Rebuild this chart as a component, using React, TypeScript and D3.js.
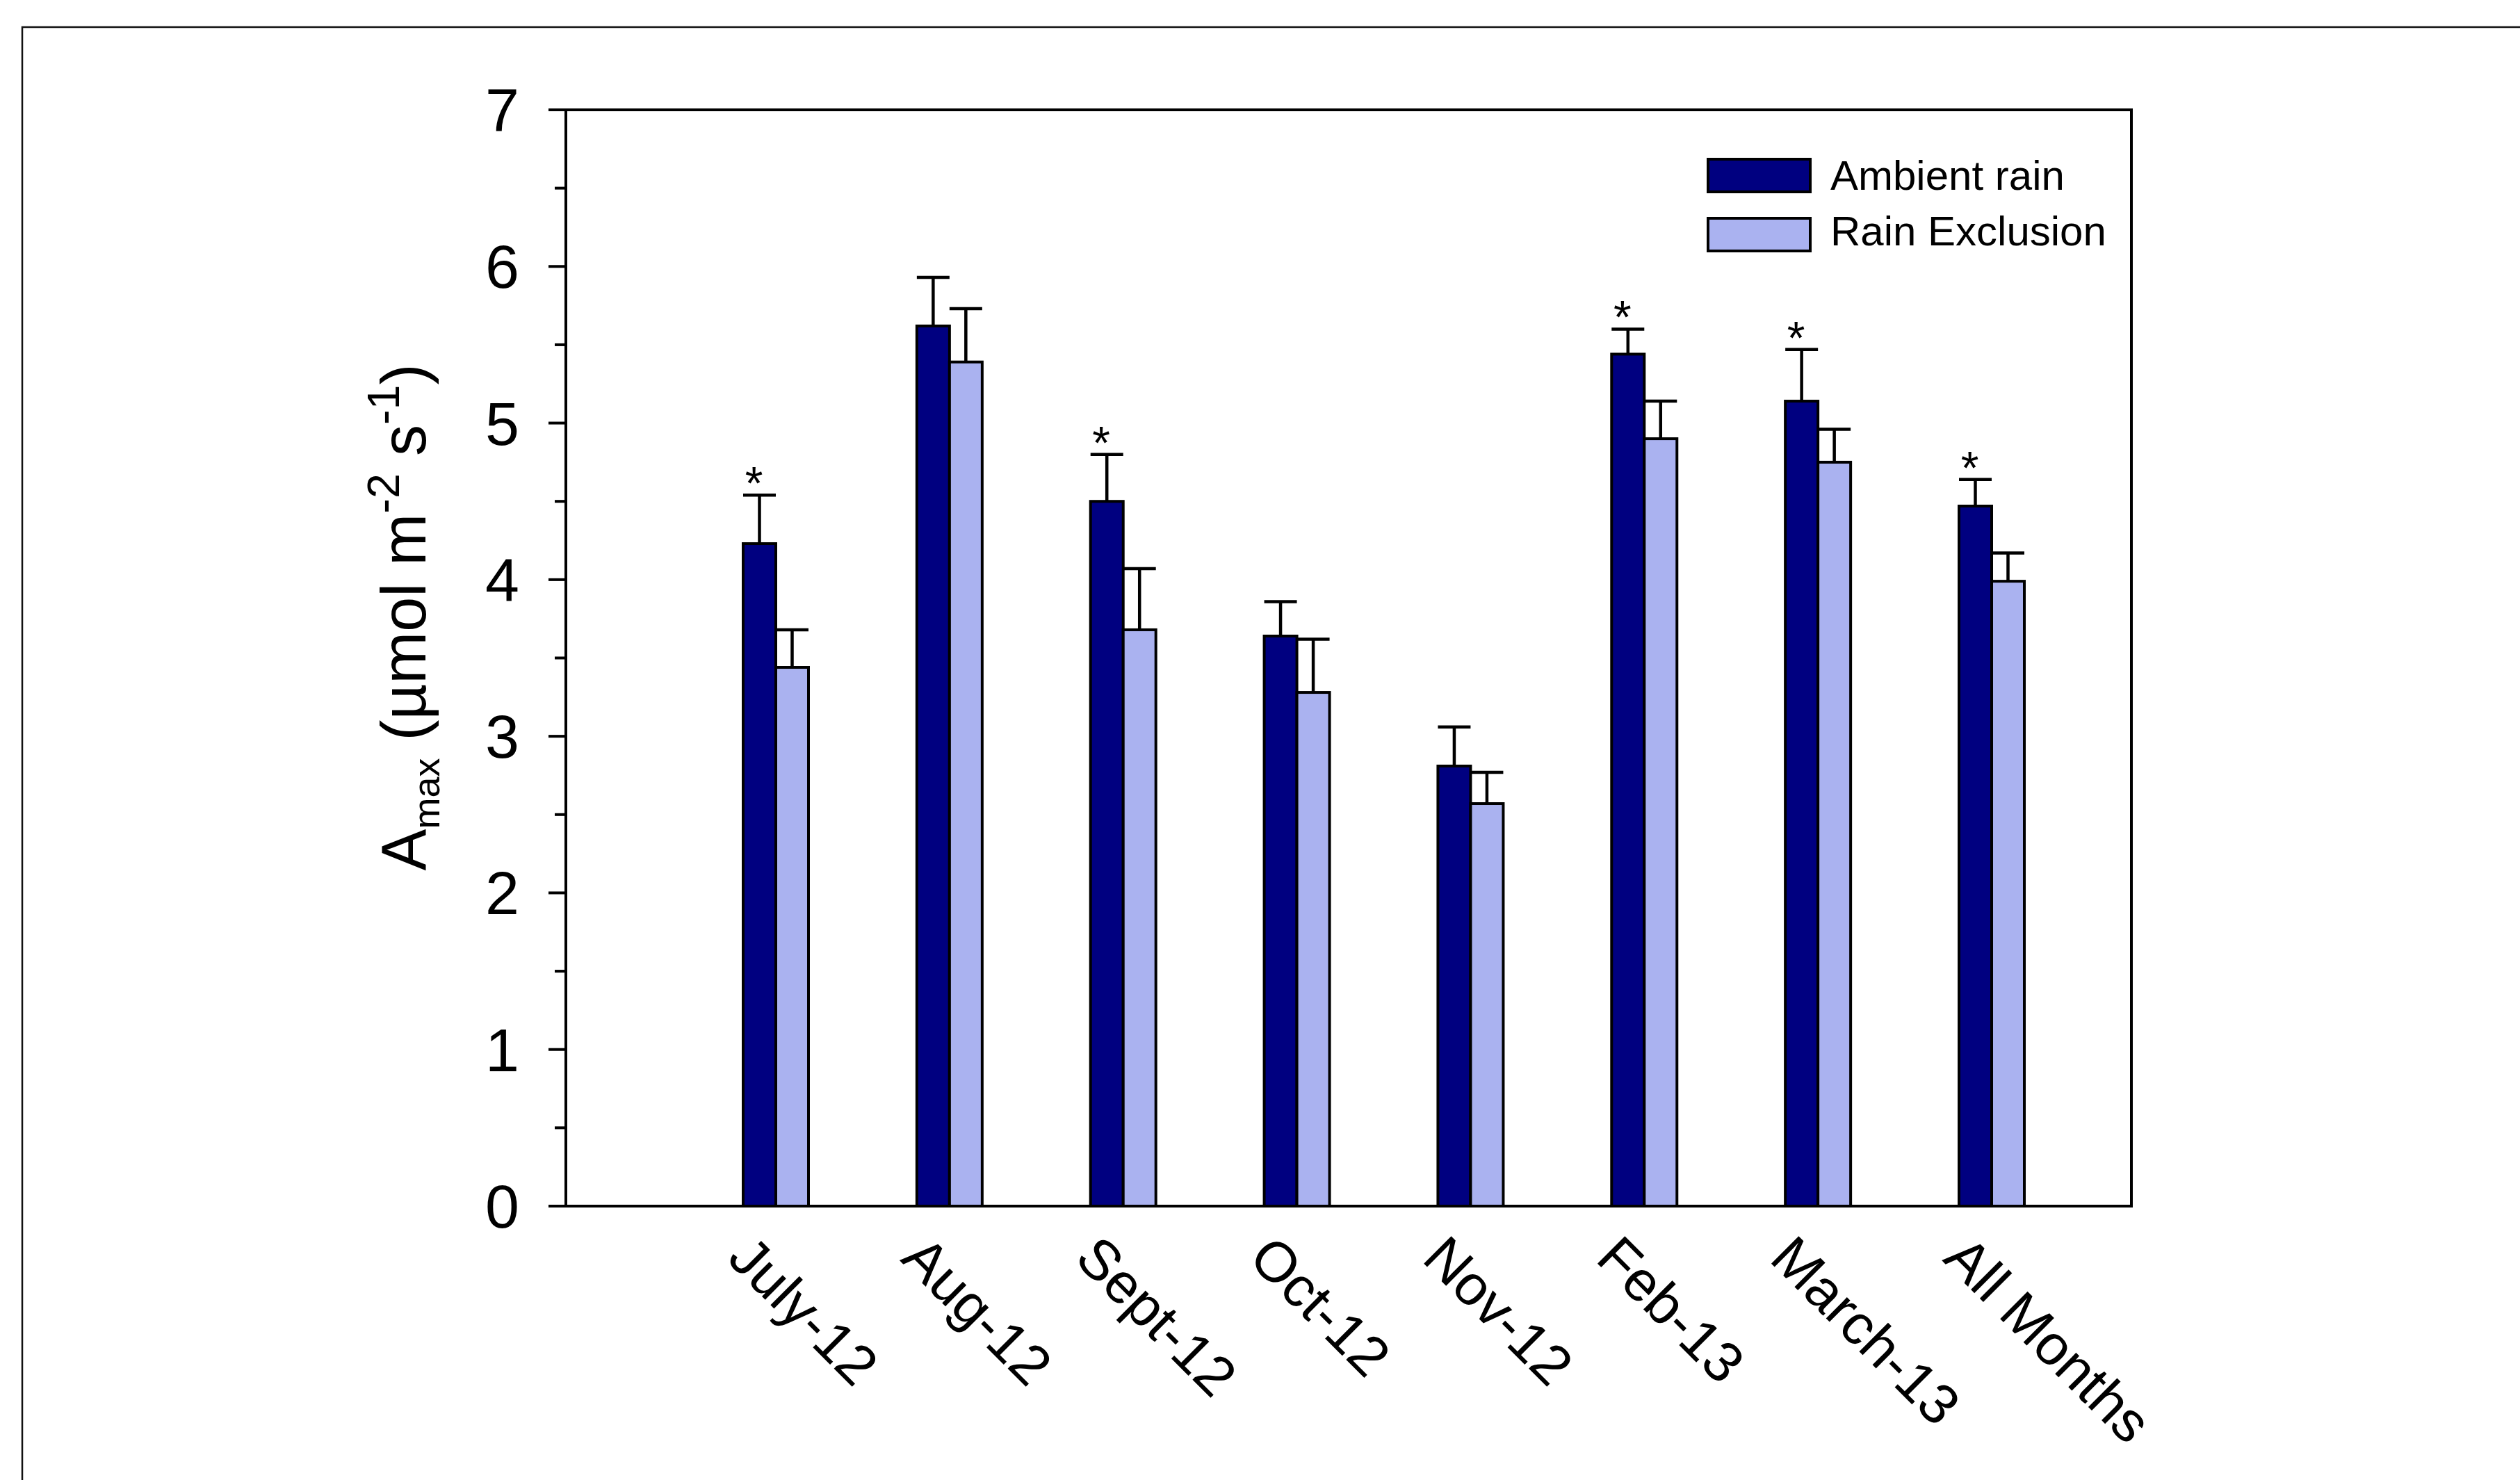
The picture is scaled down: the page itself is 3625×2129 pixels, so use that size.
import React from "react";
import * as d3 from "d3";

const categories = ["July-12", "Aug-12", "Sept-12", "Oct-12", "Nov-12", "Feb-13", "March-13", "All Months"];
const ambient = [4.23, 5.62, 4.5, 3.64, 2.81, 5.44, 5.14, 4.47];
const ambientErr = [0.31, 0.31, 0.3, 0.22, 0.25, 0.16, 0.33, 0.17];
const exclusion = [3.44, 5.39, 3.68, 3.28, 2.57, 4.9, 4.75, 3.99];
const exclusionErr = [0.24, 0.34, 0.39, 0.34, 0.2, 0.24, 0.21, 0.18];
const significant = [true, false, true, false, false, true, true, true];
const yTicks = [0, 1, 2, 3, 4, 5, 6, 7];
const seriesNames = ["Ambient rain", "Rain Exclusion"];
const seriesColors = ["#000080", "#aab2f0"];

const W = 3625;
const H = 2129;
const FONT = "'Liberation Sans', Arial, Helvetica, sans-serif";

export default function App() {
  const left = 814;
  const right = 3066;
  const y = d3.scaleLinear().domain([0, 7]).range([1735, 158]);
  const x = d3.scaleLinear().domain([0, categories.length - 1]).range([1116, 2865]);
  const barW = 47;
  const minor = d3.range(0.5, 7, 1);
  const series = [
    { vals: ambient, errs: ambientErr, off: -barW / 2 },
    { vals: exclusion, errs: exclusionErr, off: barW / 2 },
  ];
  const titleF = 90;
  const supF = titleF * 0.72;
  const subF = titleF * 0.6;
  return (
    <svg
      width={W}
      height={H}
      viewBox={`0 0 ${W} ${H}`}
      style={{ position: "absolute", left: 0, top: 0, background: "#fff" }}
      fontFamily={FONT}
    >
      <rect x={0} y={0} width={W} height={H} fill="#fff" />
      {/* outer frame */}
      <path d={`M32,${H} V39 H${W}`} fill="none" stroke="#111" strokeWidth={2.5} />

      {/* bars */}
      {series.map((s, si) =>
        s.vals.map((v, i) => {
          const cx = x(i) + s.off;
          return (
            <g key={`b${si}-${i}`}>
              <line x1={cx} x2={cx} y1={y(v)} y2={y(v + s.errs[i])} stroke="#000" strokeWidth={4.5} />
              <line x1={cx - barW / 2} x2={cx + barW / 2} y1={y(v + s.errs[i])} y2={y(v + s.errs[i])} stroke="#000" strokeWidth={4.5} />
              <rect
                x={cx - barW / 2}
                y={y(v)}
                width={barW}
                height={y(0) - y(v)}
                fill={seriesColors[si]}
                stroke="#000"
                strokeWidth={4}
              />
            </g>
          );
        })
      )}

      {/* significance stars */}
      {significant.map((sig, i) =>
        sig ? (
          <text
            key={`s${i}`}
            x={x(i) + series[0].off - 8}
            y={y(ambient[i] + ambientErr[i]) + 6}
            fontSize={66}
            textAnchor="middle"
            fill="#000"
          >
            *
          </text>
        ) : null
      )}

      {/* plot frame */}
      <line x1={left} x2={left} y1={y(0)} y2={y(7)} stroke="#000" strokeWidth={4} />
      <line x1={left - 25} x2={right} y1={y(0)} y2={y(0)} stroke="#000" strokeWidth={4} />
      <line x1={left - 25} x2={right} y1={y(7)} y2={y(7)} stroke="#000" strokeWidth={4} />
      <line x1={right} x2={right} y1={y(0) + 2} y2={y(7) - 2} stroke="#000" strokeWidth={4} />

      {/* y ticks */}
      {yTicks.map((t) => (
        <g key={`t${t}`}>
          <line x1={left - 25} x2={left} y1={y(t)} y2={y(t)} stroke="#000" strokeWidth={4} />
          <text x={747} y={y(t) + 31} fontSize={88} textAnchor="end" fill="#000">
            {t}
          </text>
        </g>
      ))}
      {minor.map((t) => (
        <line key={`m${t}`} x1={left - 16} x2={left} y1={y(t)} y2={y(t)} stroke="#000" strokeWidth={4} />
      ))}

      {/* x labels */}
      {categories.map((c, i) => (
        <text
          key={`c${i}`}
          transform={`translate(${x(i) - 72},${y(0) + 78}) rotate(45)`}
          fontSize={81}
          fill="#000"
        >
          {c}
        </text>
      ))}

      {/* y title */}
      <text transform={`translate(612,888) rotate(-90)`} textAnchor="middle" fontSize={titleF} fill="#000">
        <tspan>A</tspan>
        <tspan fontSize={subF} dy={titleF * 0.22}>max</tspan>
        <tspan dy={-titleF * 0.22}> (µmol m</tspan>
        <tspan fontSize={supF} dy={-titleF * 0.42}>-2</tspan>
        <tspan dy={titleF * 0.42}> s</tspan>
        <tspan fontSize={supF} dy={-titleF * 0.42}>-1</tspan>
        <tspan dy={titleF * 0.42}>)</tspan>
      </text>

      {/* legend */}
      {seriesNames.map((n, i) => (
        <g key={`l${i}`}>
          <rect x={2457} y={229 + i * 85} width={147} height={47} fill={seriesColors[i]} stroke="#000" strokeWidth={4} />
          <text x={2633} y={273 + i * 80} fontSize={60} fill="#000">
            {n}
          </text>
        </g>
      ))}
    </svg>
  );
}
